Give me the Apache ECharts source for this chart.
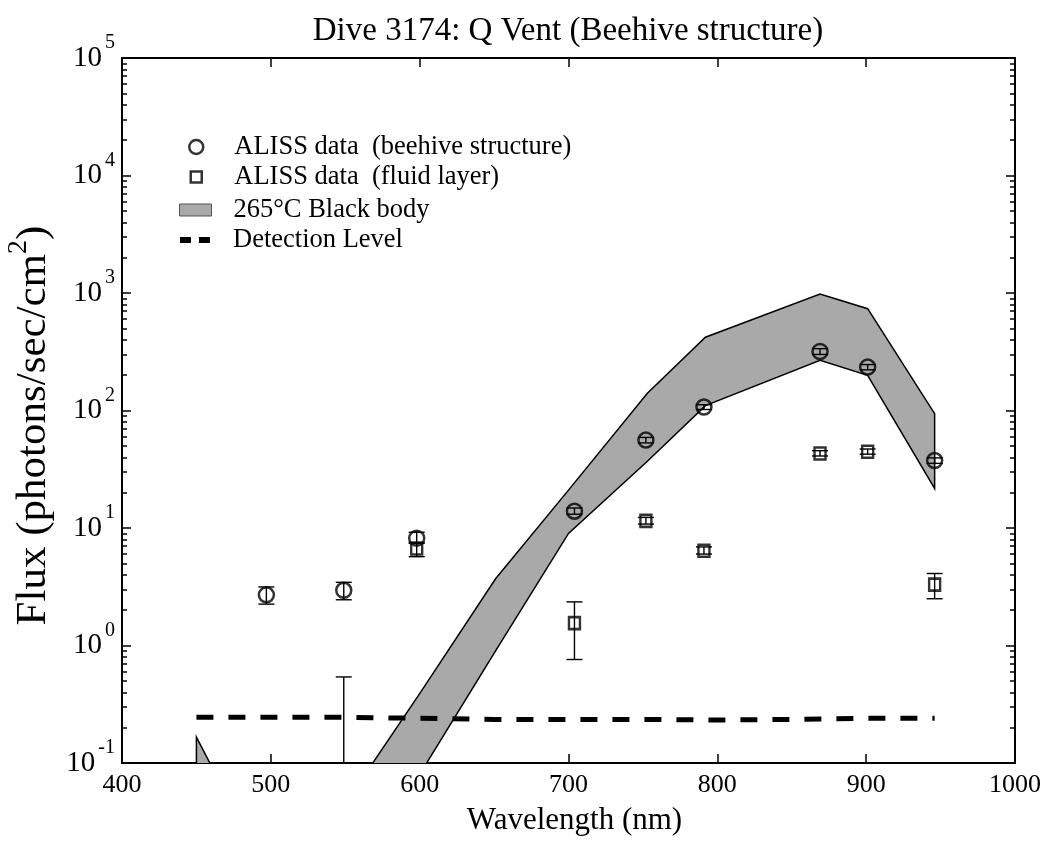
<!DOCTYPE html>
<html>
<head>
<meta charset="utf-8">
<title>Dive 3174: Q Vent</title>
<script src="https://cdn.jsdelivr.net/npm/echarts@6/dist/echarts.min.js"></script>
<style>
html,body{margin:0;padding:0;background:#fff;}
#echarts{width:1046px;height:847px;}
</style>
</head>
<body>
<div id="echarts"></div>
<script>
// wavelength (nm) and flux (photons/sec/cm2)
var hiveX=[497,549,598,704,752,791,869,901,946];
var hiveY=[2.7,2.95,8.2,13.9,56,107,318,234,37.5];
var hiveLo=[2.25,2.45,7.5,13.1,53,102,300,222,35.5];
var hiveHi=[3.15,3.45,9.2,14.8,59,112,336,246,39.5];

var fluidX=[549,598,704,752,791,869,901,946];
var fluidY=[0.05,6.7,1.55,11.5,6.4,43,44.5,3.3];
var fluidLo=[0.01,5.7,0.76,10.8,6.0,41,42.5,2.5];
var fluidHi=[0.54,7.4,2.35,12.3,6.9,45.5,47,4.1];

// 265C black body band (lower / upper edge)
var bodyX=[450,500,550,600,651,700,753,792,869,901,946];
var bodyLo=[0.0001,0.0005,0.005,0.08,0.9,9,37,110,268,199,21.7];
var bodyHi=[0.166,0.01,0.045,0.39,3.7,21,140,420,980,735,94];

var detX=[450,500,550,600,650,700,750,800,850,900,946];
var detY=[0.245,0.245,0.245,0.24,0.235,0.235,0.235,0.232,0.235,0.24,0.24];

var yDecades=[0.1,1,10,100,1000,10000,100000];

var FONT='Liberation Serif';
var names=['ALISS data  (beehive structure)','ALISS data  (fluid layer)','265\u00b0C Black body','Detection Level'];

// minor log ticks 2..9 in each decade
var minorY=[];
for(var d=0;d<yDecades.length-1;d++){
    for(var m=2;m<10;m++){minorY.push(+(yDecades[d]*m).toPrecision(3));}
}

function pairs(xs,ys){
    return xs.map(function(x,i){return [x,ys[i]];});
}

function errorBars(name,xs,lo,hi){
    return {
        name:name,
        type:'custom',
        clip:true,
        silent:true,
        z:3,
        data:xs.map(function(x,i){return [x,lo[i],hi[i]];}),
        encode:{x:0,y:[1,2]},
        renderItem:function(params,api){
            var a=api.coord([api.value(0),api.value(1)]);
            var b=api.coord([api.value(0),api.value(2)]);
            var w=8,st={stroke:'#000',lineWidth:1.4};
            return {type:'group',children:[
                {type:'line',shape:{x1:a[0],y1:a[1],x2:b[0],y2:b[1]},style:st},
                {type:'line',shape:{x1:a[0]-w,y1:a[1],x2:a[0]+w,y2:a[1]},style:st},
                {type:'line',shape:{x1:b[0]-w,y1:b[1],x2:b[0]+w,y2:b[1]},style:st}
            ]};
        }
    };
}

function yAxisOf(pos,tickLen,values,labels){
    return {
        type:'log',
        logBase:10,
        min:0.1,
        max:100000,
        position:pos,
        axisLine:{show:true,lineStyle:{color:'#000',width:2}},
        axisTick:{show:true,inside:true,length:tickLen,customValues:values,lineStyle:{color:'#000',width:1.5}},
        splitLine:{show:false},
        axisLabel:labels?{
            show:true,
            margin:7,
            formatter:function(v){return '{b|10}{s|'+Math.round(Math.log10(v))+'}';},
            rich:{
                b:{fontFamily:FONT,fontSize:29,color:'#000'},
                s:{fontFamily:FONT,fontSize:20,color:'#000',padding:[0,0,30,3]}
            }
        }:{show:false}
    };
}

function xAxisOf(pos,labels){
    return {
        type:'value',
        min:400,
        max:1000,
        interval:100,
        position:pos,
        name:labels?'Wavelength (nm)':'',
        nameLocation:'middle',
        nameGap:42,
        nameTextStyle:{fontFamily:FONT,fontSize:31,color:'#000',padding:[0,0,0,12]},
        axisLine:{show:true,lineStyle:{color:'#000',width:2}},
        axisTick:{show:true,inside:true,length:9,lineStyle:{color:'#000',width:1.5}},
        splitLine:{show:false},
        axisLabel:{show:labels,margin:9,fontFamily:FONT,fontSize:26,color:'#000',
            formatter:function(v){return String(v);}}
    };
}

var myChart=echarts.init(document.getElementById('echarts'));

var ys=[
    yAxisOf('left',9,yDecades,true),
    yAxisOf('left',5,minorY,false),
    yAxisOf('right',9,yDecades,false),
    yAxisOf('right',5,minorY,false)
];
ys[0].name='{a|Flux (photons/sec/cm}{s|2}{a|)}';
ys[0].nameLocation='middle';
ys[0].nameGap=54;
ys[0].nameRotate=90;
ys[0].nameTextStyle={
    padding:[0,30,0,0],
    rich:{
        a:{fontFamily:FONT,fontSize:43,color:'#000'},
        s:{fontFamily:FONT,fontSize:28,color:'#000',padding:[0,0,30,0]}
    }
};

function legendOf(name,top,w,h,icon,style){
    var left=195-w/2;
    return {
        data:[{name:name,icon:icon,itemStyle:style}],
        orient:'vertical',
        left:left,
        top:top,
        padding:0,
        itemWidth:w,
        itemHeight:h,
        selectedMode:false,
        textStyle:{fontFamily:FONT,fontSize:26.5,color:'#000',lineHeight:30,padding:[0,0,0,233-(left+w+5)]}
    };
}

var option={
    animation:false,
    backgroundColor:'#fff',
    title:{
        text:'Dive 3174: Q Vent (Beehive structure)',
        left:563,
        top:10,
        textAlign:'center',
        textStyle:{fontFamily:FONT,fontSize:33,fontWeight:'normal',color:'#000'}
    },
    grid:{left:122,right:31,top:58,bottom:84,outerBoundsMode:'none',containLabel:false},
    legend:[
        legendOf(names[0],132,14,14,'circle',{color:'transparent',borderColor:'#000',borderWidth:2.5}),
        legendOf(names[1],162,11,11,'rect',{color:'transparent',borderColor:'#000',borderWidth:2.5}),
        legendOf(names[2],195,32,12,'path://M0,0H32V12H0Z',{color:'#a9a9a9',borderColor:'#555',borderWidth:1}),
        legendOf(names[3],225,30,6,'path://M0,0H11V6H0Z M19,0H30V6H19Z',{color:'#000'})
    ],
    xAxis:[xAxisOf('bottom',true),xAxisOf('top',false)],
    yAxis:ys,
    series:[
        {
            name:names[2],
            type:'custom',
            clip:true,
            silent:true,
            z:1,
            itemStyle:{color:'#a9a9a9'},
            data:bodyX.map(function(x,i){return [x,bodyLo[i],bodyHi[i]];}),
            encode:{x:0,y:[1,2]},
            renderItem:function(params,api){
                if(params.dataIndexInside!==0) return null;
                var top=[],bot=[];
                for(var i=0;i<params.dataInsideLength;i++){
                    top.push(api.coord([api.value(0,i),api.value(2,i)]));
                    bot.unshift(api.coord([api.value(0,i),api.value(1,i)]));
                }
                return {
                    type:'polygon',
                    shape:{points:top.concat(bot)},
                    style:{fill:'#a9a9a9',stroke:'#000',lineWidth:1.5}
                };
            }
        },
        {
            name:names[3],
            type:'line',
            z:2,
            symbol:'none',
            data:pairs(detX,detY),
            lineStyle:{color:'#000',width:5,type:[17,15]}
        },
        errorBars('hiveErr',hiveX,hiveLo,hiveHi),
        errorBars('fluidErr',fluidX,fluidLo,fluidHi),
        {
            name:names[0],
            type:'scatter',
            z:4,
            symbol:'circle',
            symbolSize:15,
            data:pairs(hiveX,hiveY),
            itemStyle:{color:'transparent',borderColor:'#000',borderWidth:2.5}
        },
        {
            name:names[1],
            type:'scatter',
            z:4,
            symbol:'rect',
            symbolSize:[11,12],
            data:pairs(fluidX,fluidY),
            itemStyle:{color:'transparent',borderColor:'#000',borderWidth:2.5}
        }
    ]
};
myChart.setOption(option);
</script>
</body>
</html>
